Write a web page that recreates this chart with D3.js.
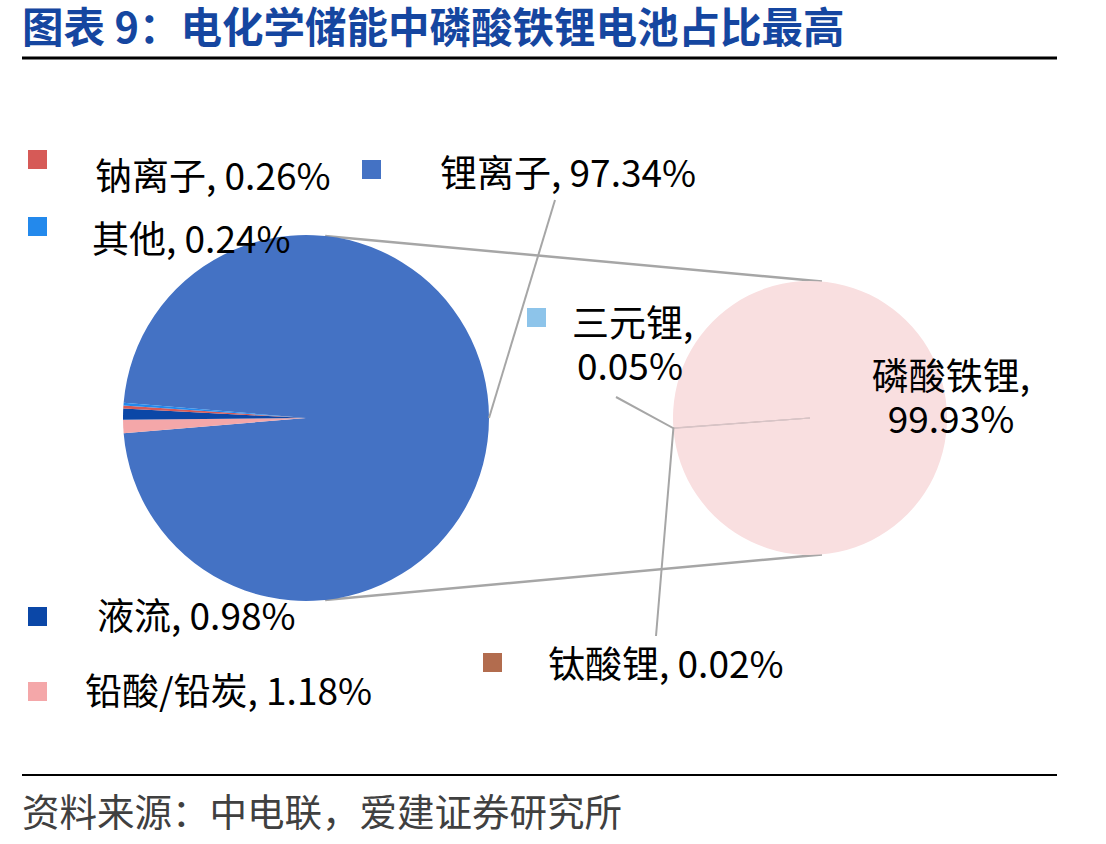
<!DOCTYPE html>
<html>
<head>
<meta charset="utf-8">
<script src="https://cdn.jsdelivr.net/npm/d3@7"></script>
<style>
  body { margin: 0; background: #fff; }
  svg { display: block; }
</style>
</head>
<body>
<svg id="chart"></svg>
<script>
// primary pie: 锂离子 slice is split out into the secondary pie
const mainNames = ["锂离子", "铅酸/铅炭", "液流", "钠离子", "其他"]
const mainValues = [97.34, 1.18, 0.98, 0.26, 0.24]
const mainColors = ["#4472C4", "#F4A7A9", "#0B47A7", "#D65A57", "#2389EC"]

// secondary pie: breakdown of 锂离子
const subNames = ["磷酸铁锂", "三元锂", "钛酸锂"]
const subValues = [99.93, 0.05, 0.02]
const subColors = ["#F9DFE0", "#8DC4EA", "#B26C4E"]

const width = 1106, height = 844
const font = "'Noto Sans CJK SC', 'Microsoft YaHei', sans-serif"
const grey = "#A6A6A6"

const svg = d3.select("svg#chart")
    .attr("width", width)
    .attr("height", height)

// title + rules
svg.append("text")
    .attr("x", 22).attr("y", 43)
    .text("图表 9：电化学储能中磷酸铁锂电池占比最高")
    .style("font-family", font)
    .style("font-size", "41.5px")
    .style("font-weight", "bold")
    .style("fill", "#1546A0")
svg.append("line")
    .attr("x1", 22).attr("x2", 1057).attr("y1", 58).attr("y2", 58)
    .style("stroke", "#000").style("stroke-width", 3)
svg.append("line")
    .attr("x1", 22).attr("x2", 1057).attr("y1", 775).attr("y2", 775)
    .style("stroke", "#000").style("stroke-width", 2)
svg.append("text")
    .attr("x", 22).attr("y", 826)
    .text("资料来源：中电联，爱建证券研究所")
    .style("font-family", font)
    .style("font-size", "37.5px")
    .style("fill", "#404040")

const deg = Math.PI / 180
const main = { cx: 306, cy: 418, r: 183 }
const sub = { cx: 810, cy: 418, r: 137 }

// first slice centred on 3 o'clock
const mainStart = 90 * deg - Math.PI * mainValues[0] / 100
const mainPie = d3.pie().sort(null).startAngle(mainStart).endAngle(mainStart + 2 * Math.PI)
const mainArcs = mainPie(mainValues)

// small slices of the secondary sit just below 9 o'clock
const subSmallEnd = 265.85 * deg
const subStart = subSmallEnd - 2 * Math.PI
const subPie = d3.pie().sort(null).startAngle(subStart).endAngle(subSmallEnd)
const subArcs = subPie(subValues)

const polar = (c, r, a) => [c.cx + r * Math.sin(a), c.cy - r * Math.cos(a)]

// connector lines between the two pies
const linkPairs = [[6, 5], [174, 175]]
linkPairs.forEach(([a1, a2]) => {
    const p1 = polar(main, main.r, a1 * deg)
    const p2 = polar(sub, sub.r, a2 * deg)
    svg.append("line")
        .attr("x1", p1[0]).attr("y1", p1[1]).attr("x2", p2[0]).attr("y2", p2[1])
        .style("stroke", grey).style("stroke-width", 2.5)
})

const mainG = svg.append("g").attr("transform", `translate(${main.cx},${main.cy})`)
mainG.selectAll("path")
    .data(mainArcs)
    .join("path")
    .attr("d", d3.arc().innerRadius(0).outerRadius(main.r))
    .style("fill", (d, i) => mainColors[i])

const subG = svg.append("g").attr("transform", `translate(${sub.cx},${sub.cy})`)
subG.selectAll("path")
    .data(subArcs)
    .join("path")
    .attr("d", d3.arc().innerRadius(0).outerRadius(sub.r))
    .style("fill", (d, i) => subColors[i])
    .style("stroke", (d, i) => i == 0 ? "none" : "#D8C4C6")
    .style("stroke-width", 1)

// leader lines
const liMid = (mainArcs[0].startAngle + mainArcs[0].endAngle) / 2
const liEdge = polar(main, main.r, liMid)
svg.append("line")
    .attr("x1", 555).attr("y1", 200).attr("x2", liEdge[0]).attr("y2", liEdge[1])
    .style("stroke", grey).style("stroke-width", 2)
const smallEdge = polar(sub, sub.r, (subArcs[1].startAngle + subArcs[2].endAngle) / 2)
svg.append("polyline")
    .attr("points", `616,397 ${smallEdge[0]},${smallEdge[1]} 656,636`)
    .style("fill", "none")
    .style("stroke", grey).style("stroke-width", 2)

// data labels with legend keys
const labelPos = {
    "钠离子": { key: [28, 150], lines: [[95, 190]] },
    "锂离子": { key: [362, 160], lines: [[440, 187]] },
    "其他": { key: [28, 217], lines: [[92, 253]] },
    "液流": { key: [28, 607], lines: [[97, 630]] },
    "铅酸/铅炭": { key: [28, 682], lines: [[85, 705]] },
    "三元锂": { key: [527, 308], lines: [[572, 337], [577, 380]] },
    "钛酸锂": { key: [483, 653], lines: [[548, 678]] },
    "磷酸铁锂": { key: null, lines: [[951, 390], [951, 433]], anchor: "middle" }
}

const allNames = mainNames.concat(subNames)
const allValues = mainValues.concat(subValues)
const allColors = mainColors.concat(subColors)

allNames.forEach((name, i) => {
    const pos = labelPos[name]
    const pct = `${allValues[i].toFixed(2)}%`
    if (pos.key) {
        svg.append("rect")
            .attr("x", pos.key[0]).attr("y", pos.key[1])
            .attr("width", 19).attr("height", 19)
            .style("fill", allColors[i])
    }
    const texts = pos.lines.length == 1 ? [`${name}, ${pct}`] : [`${name},`, pct]
    texts.forEach((t, j) => {
        svg.append("text")
            .attr("x", pos.lines[j][0]).attr("y", pos.lines[j][1])
            .attr("text-anchor", pos.anchor || "start")
            .text(t)
            .style("font-family", font)
            .style("font-size", "37px")
            .style("fill", "#000")
    })
})
</script>
</body>
</html>
